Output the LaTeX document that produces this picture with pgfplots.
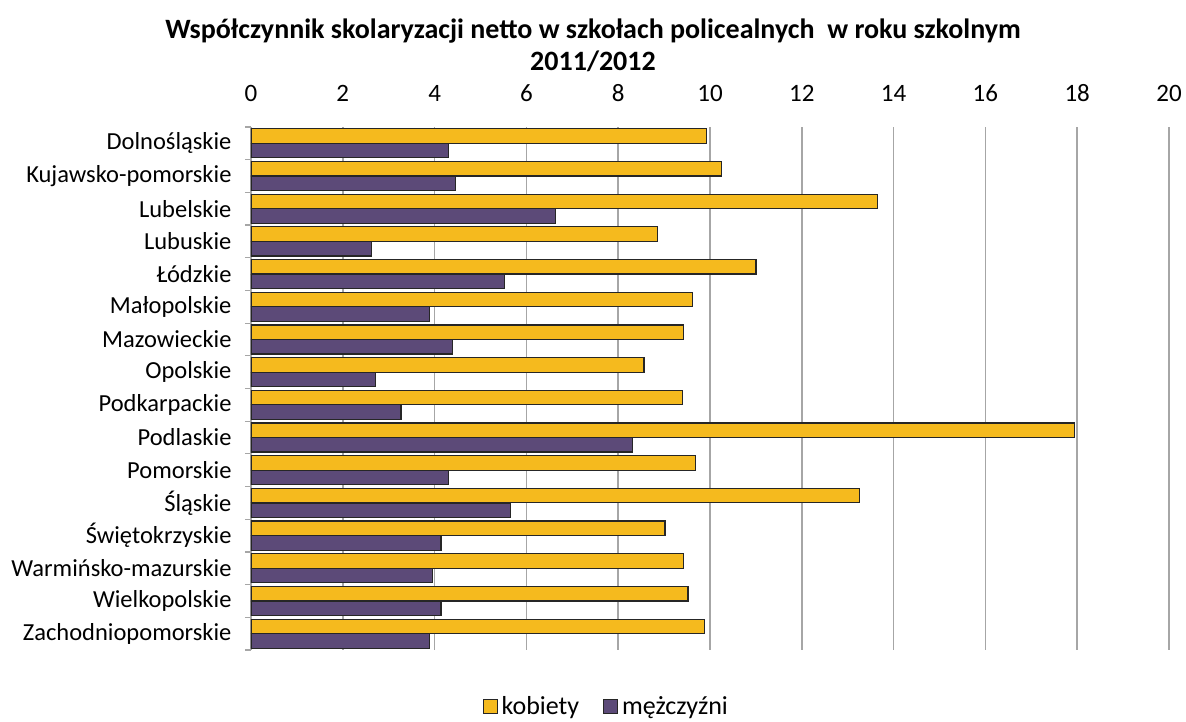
\documentclass[border=0pt]{standalone}
\usepackage{pgfplots}
\pgfplotsset{compat=1.18}
\usepackage{fontspec}
\setmainfont{Carlito}
\definecolor{kob}{HTML}{F5BA1E}
\definecolor{mez}{HTML}{5C4A78}
\definecolor{gridc}{HTML}{A6A6A6}
\begin{document}
\begin{tikzpicture}[x=1pt,y=1pt]
\path[use as bounding box] (0,0) rectangle (1186,722);
\begin{axis}[
  at={(251pt,72pt)}, anchor=south west,
  scale only axis, width=918pt, height=523pt,
  xbar, bar width=14.5pt,
  xmin=0, xmax=20, xtick={0,2,...,20},
  ymin=-0.5, ymax=15.5,
  ytick={0,...,15},
  yticklabels={Zachodniopomorskie,Wielkopolskie,Warmińsko-mazurskie,Świętokrzyskie,Śląskie,Pomorskie,Podlaskie,Podkarpackie,Opolskie,Mazowieckie,Małopolskie,Łódzkie,Lubuskie,Lubelskie,Kujawsko-pomorskie,Dolnośląskie},
  minor ytick={-0.5,0.5,...,15.5},
  axis x line*=top, axis y line*=left,
  x axis line style={draw=none},
  y axis line style={draw=gridc, line width=1.2pt},
  xmajorgrids, major grid style={draw=gridc, line width=1.5pt},
  major tick length=0pt, minor tick length=6pt,
  minor tick style={draw=gridc, line width=1.2pt},
  every tick/.style={gridc},
  tick align=outside,
  xticklabel style={font=\fontsize{25}{28}\selectfont, yshift=22pt},
  yticklabel style={font=\fontsize{24.5}{28}\selectfont, xshift=-16pt},
  /pgf/number format/assume math mode=true,
  legend style={at={(0.387,-0.108)}, anchor=center, draw=none, legend columns=2,
    font=\fontsize{26}{28}\selectfont, /tikz/every even column/.append style={column sep=22pt},
    /tikz/every odd column/.append style={column sep=2pt}, inner sep=0pt},
  legend image code/.code={\draw[#1, line width=1pt] (0pt,-7pt) rectangle (14pt,7pt);},
]
\addplot[fill=kob, draw=black!85, line width=1.2pt, bar shift=7.3pt] coordinates {
(9.88,0) (9.52,1) (9.43,2) (9.02,3) (13.25,4) (9.68,5) (17.94,6) (9.40,7) (8.56,8) (9.43,9) (9.61,10) (11.00,11) (8.85,12) (13.65,13) (10.25,14) (9.93,15)};
\addlegendentry{kobiety}
\addplot[fill=mez, draw=black!85, line width=1.2pt, bar shift=-7.3pt] coordinates {
(3.89,0) (4.14,1) (3.95,2) (4.14,3) (5.65,4) (4.31,5) (8.31,6) (3.27,7) (2.71,8) (4.39,9) (3.89,10) (5.52,11) (2.63,12) (6.63,13) (4.45,14) (4.31,15)};
\addlegendentry{mężczyźni}
\end{axis}
\node[font=\fontsize{28}{32}\selectfont\bfseries, align=center] at (593,677) {Współczynnik skolaryzacji netto w szkołach policealnych\ \ w roku szkolnym\\2011/2012};
\end{tikzpicture}
\end{document}
